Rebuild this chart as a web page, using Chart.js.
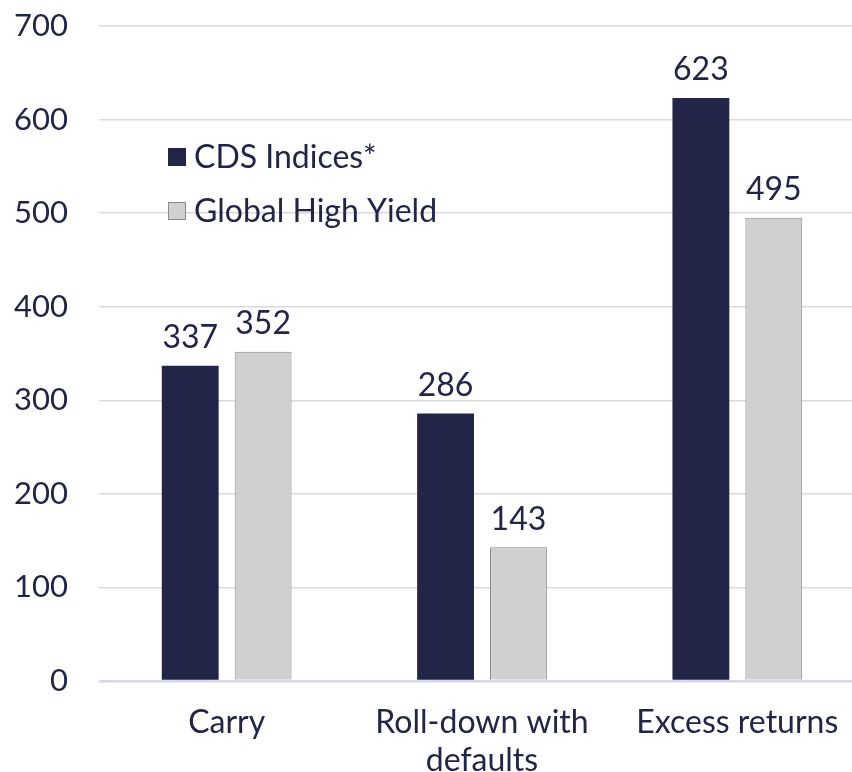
<!DOCTYPE html>
<html>
<head>
<meta charset="utf-8">
<script src="https://cdn.jsdelivr.net/npm/chart.js@4"></script>
<style>
  html, body { margin: 0; padding: 0; background: #fff; overflow: hidden; }
  #wrap { width: 866px; height: 772px; }
</style>
</head>
<body>
<div id="wrap"><canvas id="returns-chart" width="866" height="772"></canvas></div>
<script>
const categories = ['Carry', ['Roll-down with', 'defaults'], 'Excess returns'];
const cdsValues = [337, 286, 623];
const hyValues = [352, 143, 495];
const seriesNames = ['CDS Indices*', 'Global High Yield'];
const yTicks = [0, 100, 200, 300, 400, 500, 600, 700];

const navy = '#222548';
const FONT = 'Lato, "Open Sans", sans-serif';

// value labels above each bar
const barLabels = {
    id: 'barLabels',
    afterDatasetsDraw(chart) {
        const c = chart.ctx;
        c.save();
        c.font = '32px ' + FONT;
        c.fillStyle = navy;
        c.textAlign = 'center';
        c.textBaseline = 'middle';
        chart.data.datasets.forEach((ds, i) => {
            chart.getDatasetMeta(i).data.forEach((bar, j) => {
                c.fillText(ds.data[j], bar.x, bar.y - 28);
            });
        });
        c.restore();
    }
};

// legend inside the plot, top left
const insideLegend = {
    id: 'insideLegend',
    afterDraw(chart) {
        const c = chart.ctx;
        const a = chart.chartArea;
        c.save();
        c.font = '32px ' + FONT;
        c.textBaseline = 'middle';
        chart.data.datasets.forEach((ds, i) => {
            const x = a.left + 69;
            const y = a.top + 131 + i * 54;
            c.fillStyle = ds.backgroundColor;
            c.fillRect(x, y - 9, 18, 18);
            if (ds.borderWidth) {
                c.strokeStyle = ds.borderColor;
                c.lineWidth = 1;
                c.strokeRect(x + 0.5, y - 8.5, 17, 17);
            }
            c.fillStyle = navy;
            c.textAlign = 'left';
            c.fillText(ds.label, x + 26, y + 1);
        });
        c.restore();
    }
};

new Chart(document.getElementById('returns-chart'), {
    type: 'bar',
    data: {
        labels: categories,
        datasets: [{
            label: seriesNames[0],
            data: cdsValues,
            backgroundColor: navy,
            borderColor: '#3b3e62',
            borderWidth: 0
        }, {
            label: seriesNames[1],
            data: hyValues,
            backgroundColor: '#d0d0d0',
            borderColor: '#8a8a8a',
            borderWidth: 1
        }]
    },
    options: {
        responsive: false,
        animation: false,
        categoryPercentage: 0.571,
        barPercentage: 0.78,
        layout: { autoPadding: false, padding: { top: 26, right: 1, left: 0, bottom: 0 } },
        scales: {
            x: {
                grid: { display: false, drawTicks: false },
                border: { display: false },
                ticks: {
                    color: navy,
                    font: { family: FONT, size: 32, lineHeight: 1.18 },
                    padding: 23,
                    maxRotation: 0,
                    autoSkip: false
                },
                afterFit(scale) { scale.height = 91; scale.paddingLeft = 0; scale.paddingRight = 0; }
            },
            y: {
                min: 0,
                max: 700,
                afterBuildTicks(scale) { scale.ticks = yTicks.map(v => ({ value: v })); },
                grid: {
                    drawTicks: false,
                    color: ctx => ctx.tick && ctx.tick.value === 0 ? '#d4d6ea' : '#d9d9d9',
                    lineWidth: ctx => ctx.tick && ctx.tick.value === 0 ? 2.5 : 1.5
                },
                border: { display: false },
                ticks: {
                    color: navy,
                    font: { family: FONT, size: 31 },
                    padding: 31
                },
                afterFit(scale) { scale.width = 99; scale.paddingTop = 0; scale.paddingBottom = 0; }
            }
        },
        plugins: {
            legend: { display: false },
            tooltip: { enabled: false }
        }
    },
    plugins: [barLabels, insideLegend]
});
</script>
</body>
</html>
